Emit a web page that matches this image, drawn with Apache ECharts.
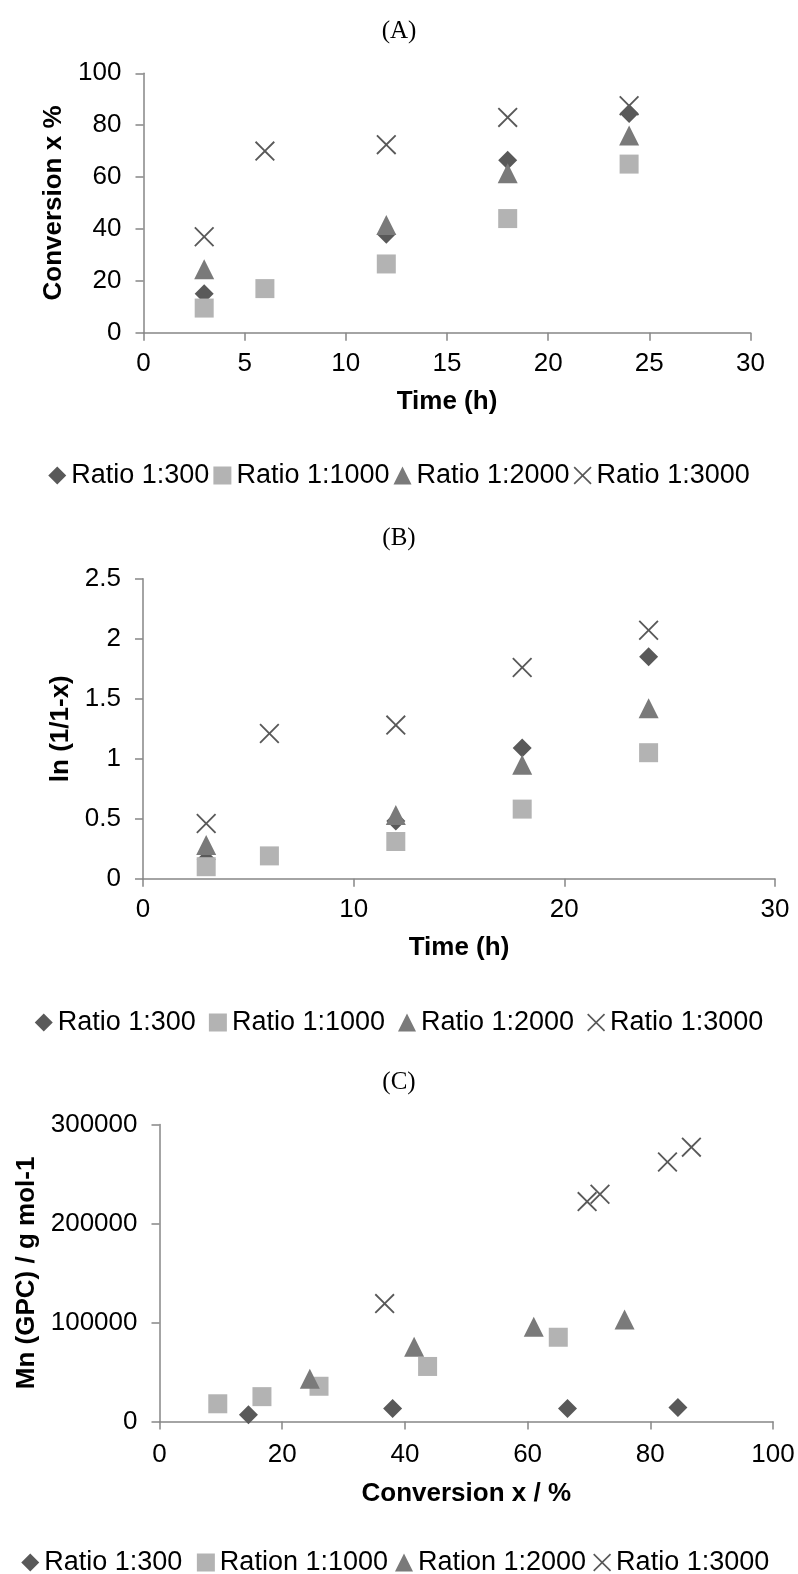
<!DOCTYPE html>
<html>
<head>
<meta charset="utf-8">
<title>Conversion kinetics</title>
<script src="https://cdn.jsdelivr.net/npm/echarts@6/dist/echarts.min.js"></script>
<style>
  html, body { margin: 0; padding: 0; background: #fff; }
  #chart { width: 798px; height: 1574px; }
</style>
</head>
<body>
<div id="chart"></div>
<script>
// (A) conversion vs time
const hoursA300 = [3, 12, 18, 24];
const convA300 = [15, 38, 66.5, 84.5];
const hoursA1000 = [3, 6, 12, 18, 24];
const convA1000 = [9.5, 17, 26.5, 44, 65];
const hoursA2000 = [3, 12, 18, 24];
const convA2000 = [24.5, 41.5, 61.5, 76];
const hoursA3000 = [3, 6, 12, 18, 24];
const convA3000 = [37, 70, 72.5, 83, 87.5];

// (B) ln(1/1-x) vs time
const lnB300 = [0.16, 0.48, 1.09, 1.85];
const lnB1000 = [0.10, 0.19, 0.31, 0.58, 1.05];
const lnB2000 = [0.28, 0.53, 0.95, 1.42];
const lnB3000 = [0.46, 1.21, 1.28, 1.76, 2.07];

// (C) Mn vs conversion
const convC300 = [14.5, 38, 66.5, 84.5];
const mnC300 = [6700, 13000, 13000, 14000];
const convC1000 = [9.5, 16.7, 26, 43.7, 65];
const mnC1000 = [17800, 25000, 35500, 55500, 85000];
const convC2000 = [24.5, 41.5, 61, 75.8];
const mnC2000 = [43000, 75500, 95500, 103000];
const convC3000 = [36.7, 69.7, 71.8, 82.8, 86.7];
const mnC3000 = [119000, 222000, 229500, 262000, 277000];

const namesAB = ["Ratio 1:300", "Ratio 1:1000", "Ratio 1:2000", "Ratio 1:3000"];
const namesC = ["Ratio 1:300 ", "Ration 1:1000", "Ration 1:2000", "Ratio 1:3000 "];

const FONT = "'Liberation Sans', Arial, sans-serif";
const AXIS = "#868686";
const CROSS = "path://M0,1.3L1.3,0L10,8.7L18.7,0L20,1.3L11.3,10L20,18.7L18.7,20L10,11.3L1.3,20L0,18.7L8.7,10Z";

const markers = [
  { symbol: "diamond", size: 19, color: "#595959" },
  { symbol: "rect", size: 19, color: "#b3b3b3" },
  { symbol: "triangle", size: 20, color: "#7a7a7a" },
  { symbol: CROSS, size: 20, color: "#595959" },
];

function pairs(xs, ys) {
  return xs.map((x, i) => [x, ys[i]]);
}

function makeSeries(name, idx, k, data) {
  return {
    name: name,
    type: "scatter",
    xAxisIndex: idx,
    yAxisIndex: idx,
    symbol: markers[k].symbol,
    symbolSize: markers[k].size,
    itemStyle: { color: markers[k].color, opacity: 1 },
    data: data,
  };
}

function xAxis(idx, max, interval, name, gap, margin) {
  return {
    type: "value", gridIndex: idx, min: 0, max: max, interval: interval,
    name: name, nameLocation: "middle", nameGap: gap,
    nameTextStyle: { fontFamily: FONT, fontSize: 26, fontWeight: "bold", color: "#000" },
    axisLine: { lineStyle: { color: AXIS, width: 1.5 } },
    axisTick: { show: true, length: 8, lineStyle: { color: AXIS, width: 1.5 } },
    axisLabel: { fontFamily: FONT, fontSize: 26, color: "#000", margin: margin },
    splitLine: { show: false },
  };
}

function yAxis(idx, max, interval, name, gap, fmt) {
  return {
    type: "value", gridIndex: idx, min: 0, max: max, interval: interval,
    name: name, nameLocation: "middle", nameGap: gap, nameRotate: 90,
    nameTextStyle: { fontFamily: FONT, fontSize: 26, fontWeight: "bold", color: "#000" },
    axisLine: { show: true, lineStyle: { color: AXIS, width: 1.5 } },
    axisTick: { show: true, length: 8, lineStyle: { color: AXIS, width: 1.5 } },
    axisLabel: { fontFamily: FONT, fontSize: 26, color: "#000", margin: 22, formatter: fmt },
    splitLine: { show: false },
  };
}

function legend(names, top, gap) {
  return {
    top: top, left: "center", itemGap: gap, itemWidth: 18, itemHeight: 18,
    textStyle: { fontFamily: FONT, fontSize: 27, color: "#000" },
    data: names.map((n, k) => ({ name: n, icon: markers[k].symbol })),
  };
}

const titleStyle = { fontFamily: "'Liberation Serif', 'Times New Roman', serif", fontSize: 25, fontWeight: "normal", color: "#000" };

const option = {
  backgroundColor: "#fff",
  animation: false,
  title: [
    { text: "(A)", left: "center", top: 14, textStyle: titleStyle },
    { text: "(B)", left: "center", top: 521, textStyle: titleStyle },
    { text: "(C)", left: "center", top: 1065, textStyle: titleStyle },
  ],
  grid: [
    { left: 143.5, top: 73.3, width: 607, height: 259.4 },
    { left: 143, top: 578.7, width: 632, height: 300 },
    { left: 159.5, top: 1124.4, width: 613.5, height: 297 },
  ],
  xAxis: [
    xAxis(0, 30, 5, "Time (h)", 56, 18),
    xAxis(1, 30, 10, "Time (h)", 56, 18),
    xAxis(2, 100, 20, "Conversion x / %", 59, 20),
  ],
  yAxis: [
    yAxis(0, 100, 20, "Conversion x %", 76),
    yAxis(1, 2.5, 0.5, "ln (1/1-x)", 68),
    yAxis(2, 300000, 100000, "Mn (GPC) / g mol-1", 120, (v) => String(v)),
  ],
  legend: [
    legend(namesAB, 457, 4),
    legend(namesAB, 1004, 13),
    legend(namesC, 1544, 7),
  ],
  series: [
    makeSeries(namesAB[0], 0, 0, pairs(hoursA300, convA300)),
    makeSeries(namesAB[1], 0, 1, pairs(hoursA1000, convA1000)),
    makeSeries(namesAB[2], 0, 2, pairs(hoursA2000, convA2000)),
    makeSeries(namesAB[3], 0, 3, pairs(hoursA3000, convA3000)),
    makeSeries(namesAB[0], 1, 0, pairs(hoursA300, lnB300)),
    makeSeries(namesAB[1], 1, 1, pairs(hoursA1000, lnB1000)),
    makeSeries(namesAB[2], 1, 2, pairs(hoursA2000, lnB2000)),
    makeSeries(namesAB[3], 1, 3, pairs(hoursA3000, lnB3000)),
    makeSeries(namesC[0], 2, 0, pairs(convC300, mnC300)),
    makeSeries(namesC[1], 2, 1, pairs(convC1000, mnC1000)),
    makeSeries(namesC[2], 2, 2, pairs(convC2000, mnC2000)),
    makeSeries(namesC[3], 2, 3, pairs(convC3000, mnC3000)),
  ],
};

const chart = echarts.init(document.getElementById("chart"), null, { renderer: "canvas" });
chart.setOption(option);
</script>
</body>
</html>
